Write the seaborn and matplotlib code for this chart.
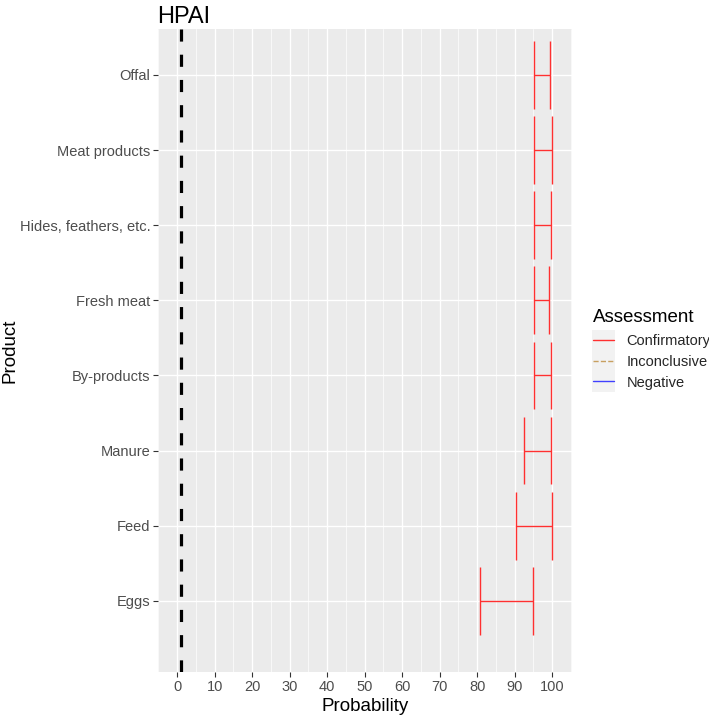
import matplotlib
matplotlib.use("Agg")
import matplotlib.pyplot as plt
from matplotlib.lines import Line2D
from matplotlib.patches import Rectangle
from matplotlib.ticker import MultipleLocator
import seaborn as sns
import pandas as pd

# Data (bottom to top)
products = ["Eggs", "Feed", "Manure", "By-products", "Fresh meat",
            "Hides, feathers, etc.", "Meat products", "Offal"]
lower = [80.8, 90.3, 92.6, 95.2, 95.2, 95.2, 95.2, 95.2]
upper = [94.8, 100.0, 99.6, 99.7, 99.2, 99.7, 100.0, 99.3]
assessment = ["Confirmatory"] * 8
threshold = 1.0

legend_labels = ["Confirmatory", "Inconclusive", "Negative"]
legend_colors = ["#FF3030", "#C8A060", "#4040FF"]
legend_styles = ["-", "--", "-"]

df = pd.DataFrame({"product": products, "lower": lower, "upper": upper,
                   "assessment": assessment})
df["pos"] = range(len(df))

sns.set_theme(style="darkgrid")
plt.rcParams["font.family"] = ["Liberation Sans", "DejaVu Sans"]

fig = plt.figure(figsize=(7.09, 7.16), dpi=100)
ax = fig.add_axes([0.2229, 0.0615, 0.5839, 0.898])
ax.set_facecolor("#EBEBEB")

# horizontal interval bars with tall end caps
half = 0.45
ax.hlines(df["pos"], df["lower"], df["upper"], color="#FF3030", lw=1.0, zorder=3)
ax.vlines(df["lower"], df["pos"] - half, df["pos"] + half, color="#FF3030", lw=1.0, zorder=3)
ax.vlines(df["upper"], df["pos"] - half, df["pos"] + half, color="#FF3030", lw=1.0, zorder=3)

# threshold line
ax.axvline(threshold, color="black", lw=2.3, ls=(0, (3.8, 4.1)), zorder=4)

ax.set_xlim(-5.1, 105.3)
ax.set_ylim(-0.945, 7.61)
ax.xaxis.set_major_locator(MultipleLocator(10))
ax.xaxis.set_minor_locator(MultipleLocator(5))
ax.set_yticks(df["pos"])
ax.set_yticklabels(df["product"])

ax.grid(which="major", color="white", lw=1.0)
ax.grid(which="minor", axis="x", color="white", lw=0.5)
ax.set_axisbelow(True)
for s in ax.spines.values():
    s.set_visible(False)

ax.tick_params(axis="both", which="major", length=3.5, width=0.8, color="#333333",
               labelsize=10.5, labelcolor="#4D4D4D", pad=2, bottom=True, left=True)
ax.tick_params(axis="x", which="minor", length=0)

ax.set_xlabel("Probability", fontsize=13.5, color="black", labelpad=3)
ax.set_ylabel("Product", fontsize=13.5, color="black", labelpad=1)
ax.set_title("HPAI", fontsize=17, loc="left", x=-0.001, pad=4, color="black")

# legend with grey key backgrounds
fig.patches.append(Rectangle((592 / 709, 1 - 392 / 716), 23 / 709, 62 / 716,
                             transform=fig.transFigure, facecolor="#F2F2F2",
                             edgecolor="none", zorder=0))
fig.text(593 / 709, 1 - 322 / 716, "Assessment", fontsize=13.5,
         color="black", va="baseline", ha="left")
handles = [Line2D([], [], color=c, ls=s, lw=1.0)
           for c, s in zip(legend_colors, legend_styles)]
leg = fig.legend(handles, legend_labels,
                 loc="upper left", bbox_to_anchor=(592 / 709, 1 - 333 / 716),
                 frameon=False, fontsize=10.5,
                 handlelength=1.4, handletextpad=0.85, labelspacing=0.45,
                 borderpad=0.1, borderaxespad=0)

fig.savefig("out.png", dpi=100)
